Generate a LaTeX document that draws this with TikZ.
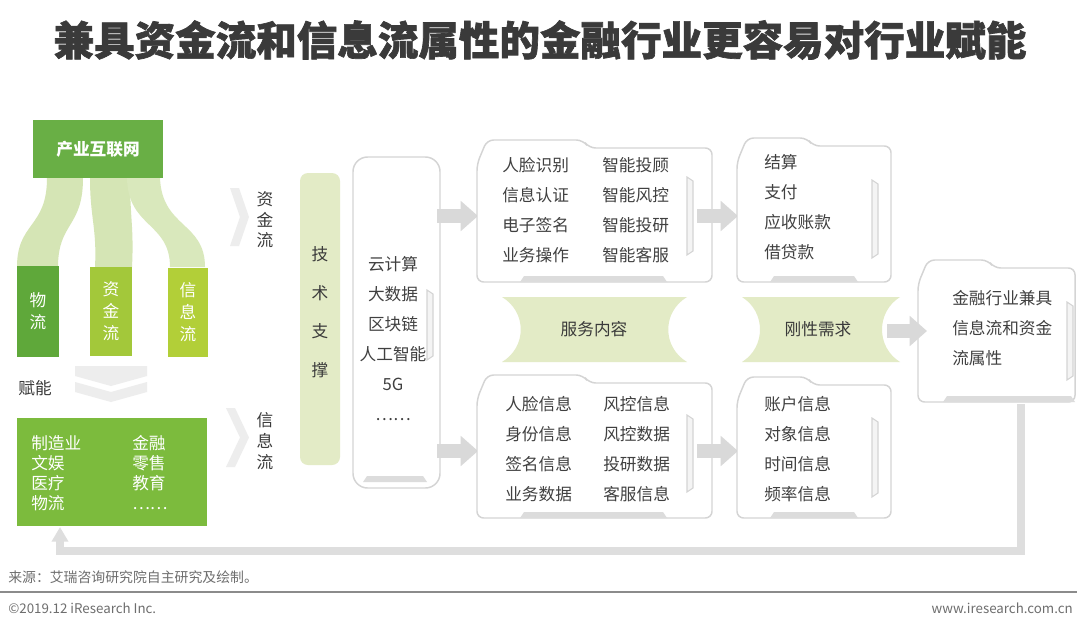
\documentclass[tikz,border=0pt]{standalone}
\usepackage{fontspec}
\setmainfont{Noto Sans CJK SC}
\newfontfamily\titlefont[FakeBold=1.6]{Noto Sans CJK SC}
\usetikzlibrary{arrows.meta}
\definecolor{titlegray}{HTML}{3A3A3A}
\definecolor{textgray}{HTML}{404040}
\definecolor{footgray}{HTML}{6E6E6E}
\definecolor{topgreen}{HTML}{69AF45}
\definecolor{darkgreen}{HTML}{5FA83A}
\definecolor{midgreen}{HTML}{A3C83A}
\definecolor{limegreen}{HTML}{B2CF38}
\definecolor{indgreen}{HTML}{7CBB3D}
\definecolor{ribbon}{HTML}{D5E5B5}
\definecolor{paleyg}{HTML}{E3EBC6}
\definecolor{boxgray}{HTML}{D4D4D4}
\definecolor{barfill}{HTML}{DCDCDC}
\definecolor{barlight}{HTML}{F4F4F4}
\definecolor{arrowgray}{HTML}{D9D9D9}
\definecolor{chevgray}{HTML}{EDEDED}
\definecolor{fbgray}{HTML}{DEDEDE}
\newcommand\folderbox[5]{\draw[boxline] (#1,#2+24) -- (#1+10,#2) -- (#5,#2) -- (#5+6,#2+8) -- (#3,#2+8) -- (#3,#4) -- (#1,#4) -- cycle;}
\newcommand\botbar[3]{\fill[barfill] (#1+4,#3-6) -- (#2-4,#3-6) -- (#2,#3) -- (#1,#3) -- cycle;}
\newcommand\sidebar[3]{\draw[boxgray, line width=0.8pt, fill=barlight] (#1,#2) -- (#1+6,#2+4) -- (#1+6,#3-4) -- (#1,#3) -- cycle;}
\newcommand\rchev[4]{\fill[chevgray] (#1,#2) -- (#1+9,#2) -- (#3,#2/2+#4/2) -- (#1+9,#4) -- (#1,#4) -- (#3-9,#2/2+#4/2) -- cycle;}
\tikzset{
  boxline/.style={draw=boxgray, line width=1.1pt, rounded corners=5pt, fill=white},
  greenbox/.style={draw=none, inner sep=0pt, text=white, align=center,
    font=\fontsize{12.5}{16.5}\selectfont},
  items/.style={text=textgray, align=left, inner sep=0pt, anchor=west,
    font=\fontsize{12.5}{22.5}\selectfont},
  vlabel/.style={text=titlegray, align=center, inner sep=0pt,
    font=\fontsize{12.5}{15.5}\selectfont},
  blockarrow/.style={draw=arrowgray, line width=10pt,
    -{Triangle[length=13pt,width=22pt]}},
  fbline/.style={draw=fbgray, line width=5.5pt, line join=miter,
    -{Triangle[length=11pt,width=12pt]}},
  banner/.style={fill=paleyg, draw=none},
  bannertext/.style={text=titlegray, inner sep=0pt, font=\fontsize{12.5}{15}\selectfont},
  foot/.style={text=footgray, inner sep=0pt, font=\fontsize{10}{12}\selectfont}
}
\begin{document}
\begin{tikzpicture}[x=0.75pt,y=-0.75pt]
\useasboundingbox (0,0) rectangle (1080,629);
\fill[white] (0,0) rectangle (1080,629);

% title
\node[text=titlegray, inner sep=0pt, font=\titlefont\fontsize{30.4}{36}\selectfont\bfseries] (title) at (540,40)
  {兼具资金流和信息流属性的金融行业更容易对行业赋能};

% feedback connector (drawn first, behind)
\coordinate (fbStart) at (1021,404);
\coordinate (fbEnd) at (60,527);
\draw[fbline] (fbStart) -- ++(0,147) -| (fbEnd);

% ribbons
\fill[ribbon] (47,178) -- (83,178) .. controls (83,228) and (58,222) .. (58,267) -- (17,267) .. controls (17,222) and (47,228) .. (47,178) -- cycle;
\fill[ribbon] (90,178) -- (130,178) .. controls (130,218) and (134,228) .. (132,267) -- (95,267) .. controls (97,228) and (90,218) .. (90,178) -- cycle;
\fill[ribbon!90!white] (127,178) -- (160,178) .. controls (162,228) and (205,222) .. (205,267) -- (170,267) .. controls (170,222) and (128,228) .. (127,178) -- cycle;

% top green box and three flow boxes
\node[greenbox, fill=topgreen, minimum width=97.5pt, minimum height=43.5pt, font=\fontsize{12.5}{15}\selectfont\bfseries] (net) at (98,149) {产业互联网};
\node[greenbox, fill=darkgreen, minimum width=31.5pt, minimum height=68.25pt] (wl) at (38,311) {物\\流};
\node[greenbox, fill=midgreen, minimum width=31.5pt, minimum height=66.75pt] (zj) at (111,311.5) {资\\金\\流};
\node[greenbox, fill=limegreen, minimum width=30pt, minimum height=66.75pt] (xx) at (188,312.5) {信\\息\\流};

% down double chevron
\fill[chevgray] (75,366) -- (147,366) -- (147,376) -- (111,386) -- (75,376) -- cycle;
\fill[chevgray] (75,382) -- (111,392) -- (147,382) -- (147,392) -- (111,402) -- (75,392) -- cycle;
\node[vlabel] (fn) at (35,388) {赋能};

% industry box
\node[fill=indgreen, minimum width=142.5pt, minimum height=81pt, inner sep=0pt] (indbox) at (112,472) {};
\node[items, text=white, font=\fontsize{12.5}{15}\selectfont] (ind1) at (31,473) {制造业\\文娱\\医疗\\物流};
\node[items, text=white, font=\fontsize{12.5}{15}\selectfont] (ind2) at (132,473) {金融\\零售\\教育\\……};

% right chevrons with labels
\rchev{230}{188}{249}{246}
\node[vlabel] (zjl) at (265,220) {资\\金\\流};
\rchev{226}{408}{249}{467}
\node[vlabel] (xxl) at (265,441) {信\\息\\流};

% tech support pill
\node[fill=paleyg, rounded corners=6pt, minimum width=30pt, minimum height=219pt, inner sep=0pt] (pill) at (320,319) {};
\node[text=titlegray, align=center, inner sep=0pt, font=\fontsize{12.5}{29}\selectfont] (pilltext) at (320,312) {技\\术\\支\\撑};

% tech box
\draw[boxline, rounded corners=11pt] (353,157) rectangle (440,488);
\fill[barfill] (367,476) -- (423,476) -- (427,482) -- (363,482) -- cycle;
\sidebar{427}{290}{360}
\node[text=textgray, align=center, inner sep=0pt, font=\fontsize{12.5}{22.5}\selectfont] (tech) at (393,339) {云计算\\大数据\\区块链\\人工智能\\5G\\……};

% arrows from tech box
\coordinate (tA1) at (437,216);
\coordinate (tA2) at (478,216);
\coordinate (tB1) at (437,451);
\coordinate (tB2) at (478,451);
\draw[blockarrow] (tA1) -- (tA2);
\draw[blockarrow] (tB1) -- (tB2);

% service boxes
\folderbox{477}{140}{712}{282}{583}
\botbar{520}{667}{282}
\sidebar{687}{177}{255}
\node[items] (s1a) at (502,210) {人脸识别\\信息认证\\电子签名\\业务操作};
\node[items] (s1b) at (602,210) {智能投顾\\智能风控\\智能投研\\智能客服};

\folderbox{477}{375}{712}{518}{583}
\botbar{520}{667}{518}
\sidebar{687}{415}{492}
\node[items] (s2a) at (505,449) {人脸信息\\身份信息\\签名信息\\业务数据};
\node[items] (s2b) at (603,449) {风控信息\\风控数据\\投研数据\\客服信息};

% banner 服务内容
\fill[banner] (502,297) -- (687,297) .. controls (662,312) and (662,347) .. (687,362) -- (502,362) .. controls (527,347) and (527,312) .. (502,297) -- cycle;
\node[bannertext] (fwnr) at (594,329) {服务内容};

% arrows to right boxes
\coordinate (sA1) at (697,216);
\coordinate (sA2) at (738,216);
\coordinate (sB1) at (697,451);
\coordinate (sB2) at (738,451);
\draw[blockarrow] (sA1) -- (sA2);
\draw[blockarrow] (sB1) -- (sB2);

% right boxes
\folderbox{737}{138}{891}{282}{807}
\botbar{770}{858}{282}
\sidebar{872}{180}{258}
\node[items] (r1) at (764,207.5) {结算\\支付\\应收账款\\借贷款};

\folderbox{737}{377}{891}{518}{807}
\botbar{770}{858}{518}
\sidebar{872}{418}{497}
\node[items] (r2) at (764,449) {账户信息\\对象信息\\时间信息\\频率信息};

% banner 刚性需求
\fill[banner] (742,297) -- (900,297) .. controls (876,312) and (876,347) .. (900,362) -- (742,362) .. controls (766,347) and (766,312) .. (742,297) -- cycle;
\node[bannertext] (gxxq) at (818,329) {刚性需求};

% final box
\folderbox{918}{260}{1075}{402}{988}
\botbar{943}{1075}{402}
\sidebar{1067}{302}{380}
\coordinate (bA1) at (887,331);
\coordinate (bA2) at (927,331);
\draw[blockarrow] (bA1) -- (bA2);
\node[items] (fin) at (952,328) {金融行业兼具\\信息流和资金\\流属性};

% footer
\node[foot, anchor=west, font=\fontsize{10.4}{12}\selectfont] (src) at (8,577) {来源：艾瑞咨询研究院自主研究及绘制。};
\coordinate (ruleL) at (0,592);
\coordinate (ruleR) at (1077,592);
\draw[draw=footgray!80, line width=1pt] (ruleL) -- (ruleR);
\node[foot, anchor=west] (copy) at (8,608) {©2019.12 iResearch Inc.};
\node[foot, anchor=east] (web) at (1073,608) {www.iresearch.com.cn};
\end{tikzpicture}
\end{document}
